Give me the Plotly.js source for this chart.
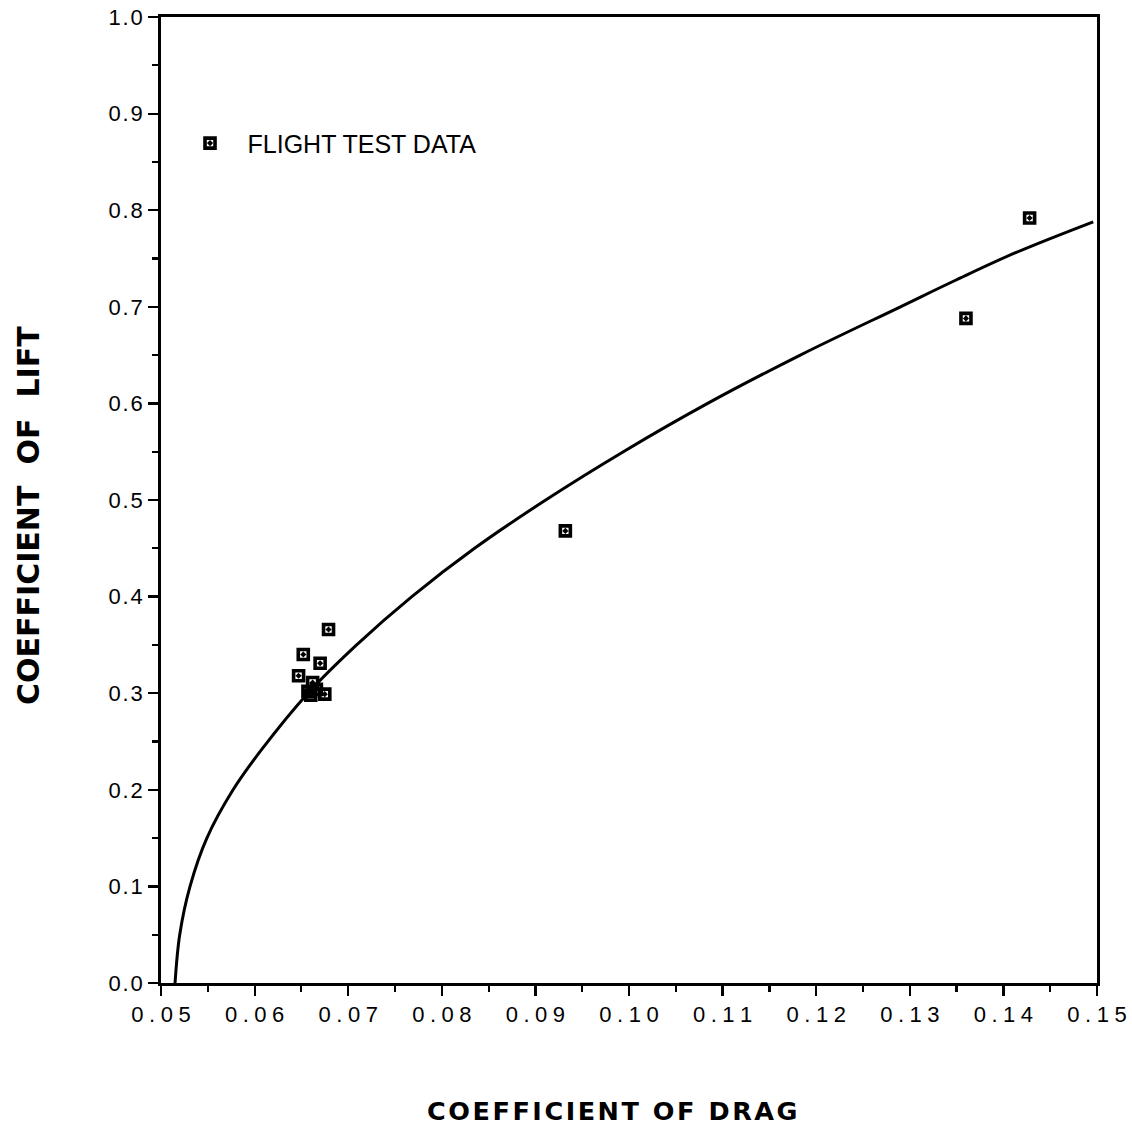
<!DOCTYPE html>
<html>
<head>
<meta charset="utf-8">
<script src="https://cdn.plot.ly/plotly-3.0.1.min.js"></script>
<style>html,body{margin:0;padding:0;background:#fff;}#chart{width:1132px;height:1141px;}</style>
</head>
<body>
<div id="chart"></div>
<script>
// Drag polar curve
const curveCD = [0.0515, 0.0520, 0.0531, 0.0549, 0.0577, 0.0607, 0.0657, 0.0709, 0.0768, 0.0835, 0.0911, 0.0994, 0.1084, 0.1183, 0.1290, 0.1350, 0.1413, 0.1496];
const curveCL = [0.000, 0.050, 0.100, 0.150, 0.200, 0.241, 0.300, 0.350, 0.400, 0.450, 0.500, 0.550, 0.600, 0.650, 0.700, 0.728, 0.756, 0.788];

// Flight test data points
const flightCD = [0.1428, 0.1360, 0.0932, 0.0679, 0.0652, 0.0670, 0.0647, 0.0662, 0.0666, 0.0675, 0.0657, 0.0660];
const flightCL = [0.792, 0.688, 0.468, 0.366, 0.340, 0.331, 0.318, 0.311, 0.304, 0.299, 0.302, 0.298];

const xTickVals = [0.05, 0.06, 0.07, 0.08, 0.09, 0.10, 0.11, 0.12, 0.13, 0.14, 0.15];
const xTickLabels = ["0.05", "0.06", "0.07", "0.08", "0.09", "0.10", "0.11", "0.12", "0.13", "0.14", "0.15"];
const yTickVals = [0.0, 0.1, 0.2, 0.3, 0.4, 0.5, 0.6, 0.7, 0.8, 0.9, 1.0];
const yTickLabels = ["0.0", "0.1", "0.2", "0.3", "0.4", "0.5", "0.6", "0.7", "0.8", "0.9", "1.0"];

const xTitle = "COEFFICIENT OF DRAG";
const yTitle = "COEFFICIENT OF LIFT";

const spaced = (s, sp) => s.split('').join(sp);

const traces = [
  {
    x: curveCD, y: curveCL, mode: 'lines', type: 'scatter',
    line: {color: '#000', width: 3, shape: 'spline', smoothing: 1},
    showlegend: false, hoverinfo: 'skip'
  },
  {
    x: flightCD, y: flightCL, mode: 'markers', type: 'scatter', name: '\u2002\u2009FLIGHT TEST DATA',
    marker: {symbol: 'square-open-dot', size: 10, color: '#000', line: {color: '#000', width: 3.6}}
  }
];

const axFont = {family: 'Liberation Sans, Arial, sans-serif', size: 22, color: '#000'};

const layout = {
  width: 1132, height: 1141,
  margin: {l: 161, r: 35, t: 17, b: 158},
  paper_bgcolor: '#fff', plot_bgcolor: '#fff',
  showlegend: true,
  legend: {
    x: 0.031, y: 0.893, xanchor: 'left', yanchor: 'top',
    bgcolor: 'rgba(0,0,0,0)', borderwidth: 0,
    font: {family: 'Liberation Sans, Arial, sans-serif', size: 25, color: '#000'}
  },
  xaxis: {
    range: [0.05, 0.15], showgrid: false, zeroline: false,
    showline: true, linecolor: '#000', linewidth: 2.8, mirror: true,
    ticks: 'outside', ticklen: 10, tickwidth: 2.2, tickcolor: '#000',
    tickmode: 'array', tickvals: xTickVals, ticktext: xTickLabels.map(s => spaced(s, '\u2005')),
    tickfont: axFont, ticklabelstandoff: 0,
    minor: {dtick: 0.005, ticks: 'outside', ticklen: 6, tickwidth: 2.2, tickcolor: '#000', showgrid: false}
  },
  yaxis: {
    range: [0, 1.0], showgrid: false, zeroline: false,
    showline: true, linecolor: '#000', linewidth: 2.8, mirror: true,
    ticks: 'outside', ticklen: 10, tickwidth: 2.2, tickcolor: '#000',
    tickmode: 'array', tickvals: yTickVals, ticktext: yTickLabels.map(s => spaced(s, '\u200a')),
    tickfont: axFont, ticklabelstandoff: 1,
    minor: {dtick: 0.05, ticks: 'outside', ticklen: 6, tickwidth: 2.2, tickcolor: '#000', showgrid: false}
  },
  annotations: [
    {text: '<b>' + spaced(xTitle, '\u200a') + '</b>', xref: 'paper', yref: 'paper',
     x: (612 - 161) / 936, y: -(1111 - 983) / 966, xanchor: 'center', yanchor: 'middle', showarrow: false,
     font: {family: 'DejaVu Sans, sans-serif', size: 25.5, color: '#000'}},
    {text: '<b>' + yTitle.replace(/ /g, '\u2002\u2009') + '</b>', xref: 'paper', yref: 'paper',
     x: -(161 - 28) / 936, y: (983 - 516) / 966, xanchor: 'center', yanchor: 'middle', showarrow: false, textangle: -90,
     font: {family: 'DejaVu Sans, sans-serif', size: 30, color: '#000'}}
  ]
};

Plotly.newPlot('chart', traces, layout, {displayModeBar: false, staticPlot: true});
</script>
</body>
</html>
